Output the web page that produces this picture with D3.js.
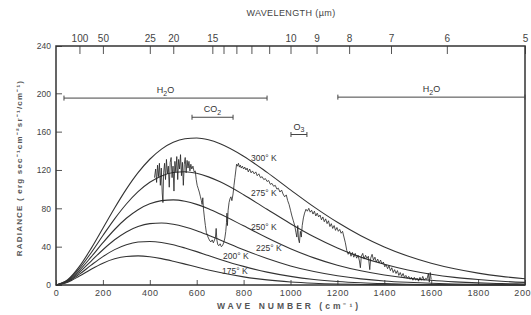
<!DOCTYPE html>
<html lang="en">
<head>
<meta charset="UTF-8">
<title>Radiance vs wave number</title>
<script src="https://cdn.jsdelivr.net/npm/d3@7/dist/d3.min.js"></script>
<style>
  body { margin: 0; background: #fff; }
  svg text { font-family: "Liberation Sans", Arial, sans-serif; fill: #444; }
</style>
</head>
<body>
<div id="chart"></div>
<script>
const width = 531, height = 315;

// blackbody curves, sampled at these wave numbers (cm-1)
const waveNumbers = [0, 50, 100, 150, 200, 250, 300, 350, 400, 450, 500, 550, 600, 650, 700,
  800, 900, 1000, 1100, 1200, 1300, 1400, 1500, 1600, 1700, 1800, 1900, 2000];
const rad300 = [0, 5.5, 19.4, 38.2, 59.2, 80.3, 100.0, 117.2, 131.2, 141.8, 148.9, 152.6, 153.4, 151.5, 147.4,
  134.4, 117.5, 99.3, 81.5, 65.4, 51.4, 39.7, 30.2, 22.7, 16.9, 12.4, 9.0, 6.5];
const rad275 = [0, 5.0, 17.3, 33.7, 51.6, 69.0, 84.5, 97.4, 107.2, 113.8, 117.4, 118.1, 116.5, 112.8, 107.6,
  94.2, 79.0, 64.0, 50.4, 38.7, 29.1, 21.6, 15.7, 11.3, 8.0, 5.7, 3.9, 2.7];
const rad250 = [0, 4.5, 15.3, 29.3, 44.1, 57.9, 69.6, 78.6, 84.7, 88.0, 88.8, 87.3, 84.1, 79.5, 74.0,
  61.7, 49.2, 37.8, 28.3, 20.6, 14.8, 10.4, 7.2, 4.9, 3.3, 2.2, 1.5, 1.0];
const rad225 = [0, 4.0, 13.3, 25.0, 36.8, 47.2, 55.4, 61.0, 64.0, 64.7, 63.4, 60.6, 56.7, 52.0, 47.0,
  36.8, 27.6, 19.9, 14.0, 9.6, 6.4, 4.2, 2.8, 1.8, 1.1, 0.7, 0.4, 0.3];
const rad200 = [0, 3.4, 11.3, 20.7, 29.6, 36.9, 42.0, 44.8, 45.4, 44.4, 42.0, 38.6, 34.8, 30.7, 26.7,
  19.4, 13.4, 9.0, 5.8, 3.7, 2.3, 1.4, 0.8, 0.5, 0.3, 0.2, 0.1, 0.05];
const rad175 = [0, 2.9, 9.3, 16.5, 22.8, 27.3, 29.8, 30.4, 29.5, 27.5, 24.8, 21.8, 18.7, 15.7, 13.0,
  8.5, 5.3, 3.2, 1.9, 1.1, 0.6, 0.3, 0.2, 0.1, 0.05, 0.03, 0.02, 0.01];
const tempNames = ['300° K', '275° K', '250° K', '225° K', '200° K', '175° K'];
const tempSeries = [rad300, rad275, rad250, rad225, rad200, rad175];

// measured spectrum
const specWn = [420, 425, 429, 433, 437, 441, 445, 449, 453, 456, 459, 463, 467, 471, 475, 479, 483, 487, 491, 495,
  499, 503, 507, 511, 515, 519, 523, 527, 531, 535, 539, 543, 547, 551, 555, 559, 563, 567, 571, 575,
  579, 584, 589, 594, 598, 602, 606, 611, 616, 620, 623, 626, 629, 633, 637, 641, 645, 650, 656, 661,
  666, 671, 676, 680, 683, 686, 690, 695, 700, 705, 710, 715, 720, 724, 727, 729, 731, 734, 738, 742,
  746, 750, 755, 759, 763, 767, 770, 774, 778, 782, 786, 790, 795, 800, 805, 810, 815, 820, 826, 832,
  838, 845, 852, 858, 865, 872, 879, 886, 893, 900, 907, 914, 921, 928, 935, 942, 948, 955, 962, 968,
  975, 982, 988, 994, 1000, 1006, 1012, 1018, 1023, 1027, 1031, 1034, 1038, 1042, 1046, 1050, 1055, 1060, 1066, 1072,
  1078, 1084, 1090, 1096, 1102, 1108, 1114, 1120, 1126, 1132, 1138, 1144, 1150, 1156, 1162, 1168, 1174, 1180, 1186, 1192,
  1198, 1204, 1210, 1216, 1222, 1228, 1234, 1240, 1246, 1252, 1258, 1264, 1270, 1276, 1282, 1288, 1294, 1298, 1302, 1308,
  1314, 1320, 1326, 1332, 1338, 1342, 1348, 1354, 1360, 1366, 1372, 1378, 1384, 1390, 1396, 1402, 1408, 1414, 1420, 1426,
  1432, 1438, 1444, 1450, 1456, 1462, 1468, 1474, 1480, 1486, 1492, 1498, 1504, 1510, 1516, 1522, 1528, 1534, 1540, 1546,
  1552, 1558, 1564, 1570, 1576, 1582, 1588, 1592, 1596, 1600];
const specRad = [112, 121, 107, 125, 113, 127, 104, 122, 96, 86, 117, 127, 110, 131, 116, 124, 102, 128, 133, 112,
  124, 98, 129, 118, 134, 110, 131, 121, 136, 114, 128, 104, 126, 133, 117, 130, 122, 129, 119, 126,
  121, 124, 118, 119, 110, 104, 101, 97, 92, 88, 84, 91, 79, 70, 62, 55, 52, 49, 46, 45,
  47, 44, 47, 50, 59, 47, 42, 41, 43, 40, 41, 44, 49, 56, 65, 75, 62, 78, 86, 90,
  92, 88, 95, 104, 112, 120, 126, 124, 127, 123, 125, 122, 124, 121, 123, 120, 122, 118, 121, 117,
  119, 116, 118, 114, 116, 112, 113, 110, 111, 108, 109, 105, 106, 103, 104, 100, 101, 97, 99, 95,
  92, 94, 88, 84, 78, 72, 67, 62, 55, 50, 62, 48, 44, 56, 50, 62, 70, 75, 79, 77,
  80, 76, 78, 74, 77, 72, 75, 71, 73, 68, 71, 66, 69, 64, 67, 61, 64, 59, 62, 57,
  60, 56, 58, 54, 56, 50, 44, 36, 32, 35, 30, 34, 29, 33, 28, 31, 25, 18, 30, 33,
  27, 31, 28, 30, 16, 28, 32, 26, 29, 24, 27, 23, 26, 22, 24, 19, 21, 17, 20, 15,
  18, 13, 16, 12, 15, 10, 13, 9, 12, 8, 10, 7, 9, 6, 8, 5, 8, 5, 7, 4,
  8, 5, 9, 5, 7, 6, 12, 3, 13, 6];

// absorption band brackets
const bandNames = ['H2O', 'CO2', 'O3', 'H2O'];
const bandFrom = [34, 580, 1002, 1202];
const bandTo = [900, 755, 1070, 2000];
const bandLevel = [195, 175, 157, 196];

// axis ticks
const xTicks = d3.range(0, 2001, 200);
const yTicks = [0, 40, 80, 120, 160, 200, 240];
const wlTicks = [100, 50, 25, 20, 15, 14, 13, 12, 11, 10, 9, 8, 7, 6, 5];
const wlLabelled = [100, 50, 25, 20, 15, 10, 9, 8, 7, 6, 5];

const plotLeft = 56, plotRight = 525, plotTop = 46, plotBottom = 285;

const svg = d3.select('#chart').append('svg')
  .attr('width', width).attr('height', height);

const x = d3.scaleLinear().domain([0, 2000]).range([plotLeft, plotRight]);
const y = d3.scaleLinear().domain([0, 200, 240]).range([plotBottom, 93.3, plotTop]);

// bottom axis, ticks pointing in
svg.append('g')
  .attr('transform', `translate(0,${plotBottom})`)
  .call(d3.axisBottom(x).tickValues(xTicks).tickSize(-5).tickPadding(5).tickFormat(d3.format('d')))
  .call(g => g.select('.domain').remove())
  .call(g => g.selectAll('text').style('font-size', '9px').attr('letter-spacing', '0.6px'));

// left axis
svg.append('g')
  .attr('transform', `translate(${plotLeft},0)`)
  .call(d3.axisLeft(y).tickValues(yTicks).tickSize(-6).tickPadding(5))
  .call(g => g.select('.domain').remove())
  .call(g => g.selectAll('text').style('font-size', '8.5px'));

// top axis: wavelength in microns
svg.append('g')
  .attr('transform', `translate(0,${plotTop})`)
  .call(d3.axisTop(x).tickValues(wlTicks.map(l => 10000 / l)).tickSize(-8).tickPadding(4)
    .tickFormat(d => {
      const l = Math.round(10000 / d);
      return wlLabelled.includes(l) ? l : '';
    }))
  .call(g => g.select('.domain').remove())
  .call(g => g.selectAll('text').style('font-size', '10px'));

svg.selectAll('.tick line').attr('stroke', '#555');

// frame
svg.append('rect')
  .attr('x', plotLeft).attr('y', plotTop)
  .attr('width', plotRight - plotLeft).attr('height', plotBottom - plotTop)
  .attr('fill', 'none').attr('stroke', '#333').attr('stroke-width', 1.5);

// blackbody curves
const curve = d3.line()
  .x((d, i) => x(waveNumbers[i]))
  .y(d => y(d))
  .curve(d3.curveMonotoneX);

svg.append('g').selectAll('path')
  .data(tempSeries).enter()
  .append('path')
  .attr('d', d => curve(d))
  .attr('fill', 'none')
  .attr('stroke', '#333')
  .attr('stroke-width', 1.1);

// curve labels (position in data units)
const labelWn = [832, 832, 832, 853, 712, 708];
const labelRad = [129, 93, 57, 35.5, 27, 11.5];
svg.append('g').selectAll('text')
  .data(tempNames).enter()
  .append('text')
  .attr('x', (d, i) => x(labelWn[i]))
  .attr('y', (d, i) => y(labelRad[i]))
  .style('font-size', '8.5px')
  .style('fill', '#333')
  .text(d => d);

// spectrum
const spec = d3.line()
  .x((d, i) => x(specWn[i]))
  .y(d => y(d));

svg.append('path')
  .attr('d', spec(specRad))
  .attr('fill', 'none')
  .attr('stroke', '#222')
  .attr('stroke-width', 0.8)
  .attr('stroke-linejoin', 'round');

// bands
const bands = svg.append('g');
bandNames.forEach((name, i) => {
  const x0 = x(bandFrom[i]), x1 = x(bandTo[i]), yy = y(bandLevel[i]);
  bands.append('line').attr('x1', x0).attr('x2', x1).attr('y1', yy).attr('y2', yy)
    .attr('stroke', '#444').attr('stroke-width', 1);
  [x0, x1].forEach(xx => bands.append('line')
    .attr('x1', xx).attr('x2', xx).attr('y1', yy - 2.5).attr('y2', yy + 2.5)
    .attr('stroke', '#444').attr('stroke-width', 1));
  const t = bands.append('text')
    .attr('x', (x0 + x1) / 2).attr('y', yy - 5)
    .attr('text-anchor', 'middle')
    .style('font-size', '9px')
    .style('fill', '#333');
  if (name === 'H2O') {
    t.append('tspan').text('H');
    t.append('tspan').attr('dy', 2.5).style('font-size', '7px').text('2');
    t.append('tspan').attr('dy', -2.5).text('O');
  } else {
    t.append('tspan').text(name.slice(0, -1));
    t.append('tspan').attr('dy', 2.5).style('font-size', '7px').text(name.slice(-1));
  }
});

// titles
svg.append('text')
  .attr('x', 291).attr('y', 16)
  .attr('text-anchor', 'middle')
  .attr('letter-spacing', '0.4px')
  .style('font-size', '9px')
  .text('WAVELENGTH (µm)');

svg.append('text')
  .attr('x', 289).attr('y', 309)
  .attr('text-anchor', 'middle')
  .attr('letter-spacing', '3px')
  .style('font-size', '8.5px')
  .style('font-weight', 'bold')
  .style('fill', '#555')
  .text('WAVE NUMBER (cm⁻¹)');

svg.append('text')
  .attr('transform', 'translate(22,168) rotate(-90)')
  .attr('text-anchor', 'middle')
  .attr('letter-spacing', '1.2px')
  .style('font-size', '8px')
  .style('font-weight', 'bold')
  .style('fill', '#555')
  .text('RADIANCE ( erg sec⁻¹cm⁻²sr⁻¹/cm⁻¹)');
</script>
</body>
</html>
